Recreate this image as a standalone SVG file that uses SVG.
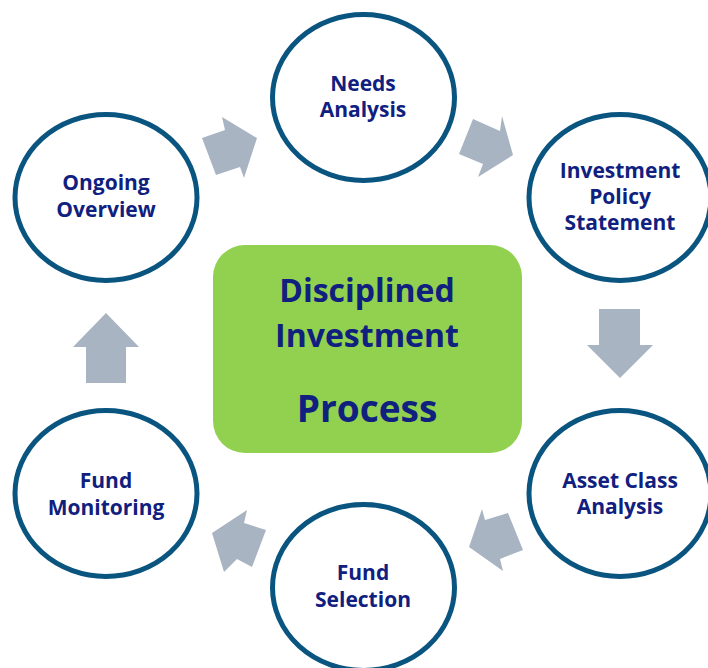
<svg xmlns="http://www.w3.org/2000/svg" width="708" height="668" viewBox="0 0 708 668">
  <style>
    .step { fill: #ffffff; stroke: #0A5580; stroke-width: 5; }
    .label { font-family: "Open Sans", "Noto Sans", "DejaVu Sans", sans-serif; font-weight: 700; font-size: 21px; fill: #10207F; text-anchor: middle; }
    .core { fill: #92D050; }
    .title { font-family: "Open Sans", "Noto Sans", "DejaVu Sans", sans-serif; font-weight: 700; fill: #10207F; text-anchor: middle; }
    .flow { fill: #A9B4C3; }
  </style>
  <rect width="708" height="668" fill="#ffffff"/>

  <!-- centre panel -->
  <g id="core">
    <rect class="core" x="213" y="245" width="309" height="208" rx="32" ry="32"/>
    <text class="title" x="367" y="302" font-size="32">Disciplined</text>
    <text class="title" x="367" y="347" font-size="32">Investment</text>
    <text class="title" x="367" y="422" font-size="37">Process</text>
  </g>

  <!-- connectors: block arrows between the steps -->
  <g id="connectors">
    <polygon class="flow" points="202,138 225,130 222,117 257,138 244,178 240,167 216,175"/>
    <polygon class="flow" points="473,119 500,131 502,116 513,155 478,177 483,164 459,154"/>
    <polygon class="flow" points="599,309 640,309 640,345 653,345 620,378 587,345 599,345"/>
    <polygon class="flow" points="482,509 485,520 508,513 523,550 500,559 503,571 469,547"/>
    <polygon class="flow" points="247,510 244,523 266,530 252,567 237,559 224,572 212,533"/>
    <polygon class="flow" points="106,313 139,347 126,347 126,383 86,383 86,347 73,347"/>
  </g>

  <g id="needs-analysis">
    <ellipse class="step" cx="363.5" cy="97.5" rx="91" ry="83"/>
    <text class="label" x="363" y="91">Needs</text>
    <text class="label" x="363" y="117">Analysis</text>
  </g>

  <g id="investment-policy-statement">
    <ellipse class="step" cx="620" cy="197.5" rx="91" ry="83"/>
    <text class="label" x="620" y="178">Investment</text>
    <text class="label" x="620" y="204">Policy</text>
    <text class="label" x="620" y="230">Statement</text>
  </g>

  <g id="asset-class-analysis">
    <ellipse class="step" cx="620" cy="493.5" rx="91" ry="83"/>
    <text class="label" x="620" y="488">Asset Class</text>
    <text class="label" x="620" y="514">Analysis</text>
  </g>

  <g id="fund-selection">
    <ellipse class="step" cx="363.5" cy="587.5" rx="91" ry="83"/>
    <text class="label" x="363" y="580">Fund</text>
    <text class="label" x="363" y="607">Selection</text>
  </g>

  <g id="fund-monitoring">
    <ellipse class="step" cx="106" cy="493.5" rx="91" ry="83"/>
    <text class="label" x="106" y="488">Fund</text>
    <text class="label" x="106" y="515">Monitoring</text>
  </g>

  <g id="ongoing-overview">
    <ellipse class="step" cx="106" cy="197.5" rx="91" ry="83"/>
    <text class="label" x="106" y="190">Ongoing</text>
    <text class="label" x="106" y="217">Overview</text>
  </g>
</svg>
